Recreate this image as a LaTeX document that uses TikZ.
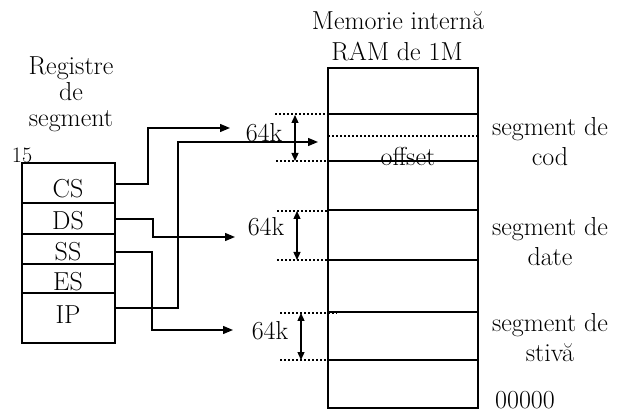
\documentclass[tikz,border=0pt]{standalone}
\usepackage{tikz}
\usetikzlibrary{arrows.meta, positioning}

\begin{document}
\begin{tikzpicture}[
    x=1pt, y=-1pt,
    txt/.style={font=\fontsize{26}{26}\selectfont, inner sep=0pt, align=center},
    frame/.style={line width=1.5pt},
    conn/.style={line width=1.3pt, -{Triangle[length=10pt, width=8pt]}},
    span/.style={line width=1.3pt, {Triangle[length=8pt, width=7pt]}-{Triangle[length=8pt, width=7pt]}},
    dots/.style={line width=1.5pt, dash pattern=on 1.5pt off 2.5pt}
]
    \useasboundingbox (0,0) rectangle (619,414);

    % registers
    \node[txt] (regtitle) at (71,94) {Registre\\de\\segment};
    \node[txt, font=\fontsize{22}{24}\selectfont] (bit15) at (22,155) {15};
    \filldraw[frame, fill=white] (22,163) rectangle (115,343);
    \foreach \y in {203,234,264,293}
        \draw[frame] (22,\y) -- (115,\y);
    \node[txt] (cs) at (68,189) {CS};
    \node[txt] (ds) at (68,221) {DS};
    \node[txt] (ss) at (68,252) {SS};
    \node[txt] (es) at (68,282) {ES};
    \node[txt] (ip) at (68,315) {IP};

    % memory
    \node[txt] (memtitle) at (398,21) {Memorie internă};
    \node[txt] (memram) at (397,52) {RAM de 1M};
    \draw[frame] (328,68) rectangle (478,408);
    \foreach \y in {114,161,210,260,312,360}
        \draw[frame] (328,\y) -- (478,\y);
    \draw[dots] (328,136) -- (478,136);
    \node[txt] (offset) at (408,156) {offset};
    \node[txt] (seg1) at (550,142) {segment de\\[4pt]cod};
    \node[txt] (seg2) at (550,242) {segment de\\[4pt]date};
    \node[txt] (seg3) at (550,338) {segment de\\[4pt]stivă};
    \node[txt] (bottom) at (525,400) {00000};

    % segment sizes
    \node[txt] (k1) at (264,133) {64k};
    \node[txt] (k2) at (266,227) {64k};
    \node[txt] (k3) at (270,331) {64k};
    \draw[dots] (275,114) -- (328,114);
    \draw[dots] (276,161) -- (328,161);
    \draw[dots] (277,211) -- (328,211);
    \draw[dots] (277,260) -- (332,260);
    \draw[dots] (280,313) -- (337,313);
    \draw[dots] (280,360) -- (337,360);
    \draw[span] (295,115) -- (295,161);
    \draw[span] (297,211) -- (297,260);
    \draw[span] (301,313) -- (301,360);

    % connectors
    \coordinate (cs out) at (115,184);
    \coordinate (ds out) at (115,219);
    \coordinate (ss out) at (115,252);
    \coordinate (ip out) at (115,308);
    \coordinate (cs in) at (230,128);
    \coordinate (ds in) at (235,237);
    \coordinate (ss in) at (233,330);
    \coordinate (ip in) at (318,142);
    \draw[conn] (cs out) -- ++(33,0) |- (cs in);
    \draw[conn] (ds out) -- ++(38,0) |- (ds in);
    \draw[conn] (ss out) -- ++(37,0) |- (ss in);
    \draw[conn] (ip out) -- ++(63,0) |- (ip in);
\end{tikzpicture}
\end{document}
